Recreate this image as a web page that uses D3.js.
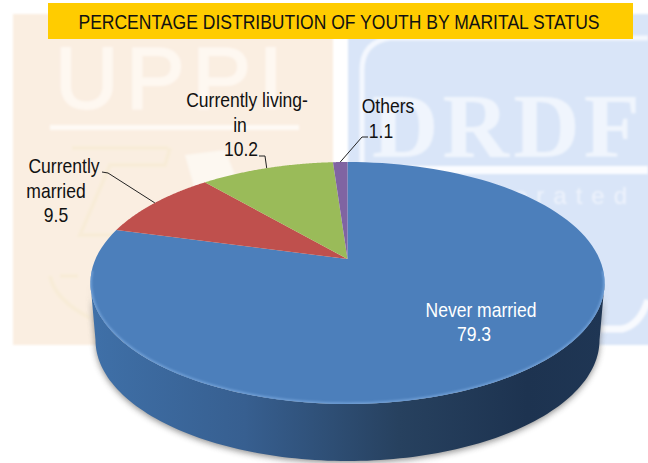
<!DOCTYPE html>
<html lang="en">
<head>
<meta charset="utf-8">
<title>Marital status of youth</title>
<script src="https://d3js.org/d3.v7.min.js"></script>
<style>
html,body{margin:0;padding:0;background:#fff;}
svg{display:block;}
text{font-family:"Liberation Sans",Arial,sans-serif;}
</style>
</head>
<body>
<div id="chart"></div>
<script>
var categories = ["Never married", "Currently married", "Currently living-in", "Others"]
var values = [79.3, 9.5, 10.2, 1.1]
var colors = ["#4c7fbb", "#bf504d", "#9abb59", "#8064a2"]
var titleText = "PERCENTAGE DISTRIBUTION OF YOUTH BY MARITAL STATUS"
var labelLines = [["Never married", "79.3"], ["Currently", "married", "9.5"], ["Currently living-", "in", "10.2"], ["Others", "1.1"]]

var w = 648, h = 463
var svg = d3.select("#chart").append("svg").attr("width", w).attr("height", h)
var defs = svg.append("defs")

// perspective of the pie: apex sits above the centre of the drawn ellipse
var x0 = 347.5, y0 = 259, A = 252, B = 116.2, k = 0.198
function project(a){
    var u = Math.sin(a), v = Math.cos(a), p = 1 + k * v
    return [x0 + A * u / p, y0 - B * v / p]
}
var line = d3.line()
function arcPoints(a0, a1){
    return d3.range(0, 121).map(function(i){ return project(a0 + (a1 - a0) * i / 120) })
}

var sideGrad = defs.append("linearGradient").attr("id", "side").attr("x1", "0").attr("x2", "1").attr("y1", "0").attr("y2", "0")
sideGrad.append("stop").attr("offset", "0").attr("stop-color", "#3f70a8")
sideGrad.append("stop").attr("offset", "0.3").attr("stop-color", "#375f90")
sideGrad.append("stop").attr("offset", "0.6").attr("stop-color", "#27415f")
sideGrad.append("stop").attr("offset", "0.85").attr("stop-color", "#1d3350")
sideGrad.append("stop").attr("offset", "1").attr("stop-color", "#1f3654")
defs.append("filter").attr("id", "blur3").attr("x", "-10%").attr("y", "-10%").attr("width", "120%").attr("height", "120%")
    .append("feGaussianBlur").attr("stdDeviation", 3)
defs.append("filter").attr("id", "blur1").attr("x", "-10%").attr("y", "-10%").attr("width", "120%").attr("height", "120%")
    .append("feGaussianBlur").attr("stdDeviation", 1.2)
defs.append("filter").attr("id", "soft").attr("x", "-5%").attr("y", "-5%").attr("width", "110%").attr("height", "110%")
    .append("feGaussianBlur").attr("stdDeviation", 0.8)

// background panels, washed out logos
var bg = svg.append("g").attr("filter", "url(#soft)")
bg.append("rect").attr("x", 13).attr("y", 14).attr("width", 320).attr("height", 331).attr("fill", "#faeee1")
bg.append("rect").attr("x", 348).attr("y", 14).attr("width", 330).attr("height", 331).attr("rx", 24).attr("fill", "#d9e5f8")
bg.append("path").attr("d", "M362 176 V70 Q362 42 390 38 H648").attr("fill", "none").attr("stroke", "#f4f8fe").attr("stroke-width", 5)
bg.append("path").attr("d", "M360 170 H648").attr("stroke", "#fbfcff").attr("stroke-width", 8)
bg.append("path").attr("d", "M600 329 H622 Q640 325 648 300").attr("fill", "none").attr("stroke", "#f8fafe").attr("stroke-width", 7)
bg.append("text").attr("x", 55).attr("y", 108).attr("font-size", 88).attr("fill", "#fef8f1").attr("stroke", "#fef8f1").attr("stroke-width", 2).attr("textLength", 228).attr("lengthAdjust", "spacing").text("UPPI")
bg.append("rect").attr("x", 50).attr("y", 125).attr("width", 249).attr("height", 5).attr("fill", "#fefaf5")
bg.append("text").attr("x", 372).attr("y", 157).style("font-family", "'Liberation Serif',serif").attr("font-size", 92).attr("font-weight", "bold").attr("fill", "#f0f5fd").attr("textLength", 268).text("DRDF")
bg.append("text").attr("x", 636).attr("y", 204).attr("font-size", 24).attr("letter-spacing", 9).attr("fill", "#eef3fc").attr("text-anchor", "end").text("orporated")
// faint emblem on the left panel
bg.append("path").attr("d", "M72 148 H168 M170 148 L165 165 H110 L80 235 H125 L160 205 M50 276 Q55 300 90 318 M60 276 H78").attr("fill", "none").attr("stroke", "#f8ecd8").attr("stroke-width", 4)
bg.append("path").attr("d", "M185 155 L225 150 L235 175 L195 190 Z").attr("fill", "#fdf8f1")

// body of the pie, lower ellipse joined to the front of the top rim
var lowerCy = 340, lowerRx = 252, lowerRy = 121
function lowerPt(t){ return [x0 + lowerRx * Math.cos(t), lowerCy + lowerRy * Math.sin(t)] }
var lower = d3.range(0, 121).map(function(i){ return lowerPt(Math.PI - Math.PI * i / 120) })

var rimRight = Math.acos(-k), rimLeft = 2 * Math.PI - rimRight
var body = arcPoints(rimRight, rimLeft).concat(lower)

svg.append("path").attr("d", line(body) + "Z").attr("fill", "#555").attr("opacity", 0.65)
    .attr("transform", "translate(0,2)").attr("filter", "url(#blur3)")
svg.append("path").attr("d", line(body) + "Z").attr("fill", "url(#side)")

// top face, built from the pie layout
var pie = d3.pie().sort(null).value(function(d){ return d })
var slices = pie(values)
var face = svg.append("g")
face.selectAll("path.slice").data(slices).enter().append("path")
    .attr("class", "slice")
    .attr("d", function(d){
        return line([[x0, y0]].concat(arcPoints(d.startAngle, d.endAngle))) + "Z"
    })
    .attr("fill", function(d, i){ return colors[i] })

// bevel along the front rim
defs.append("clipPath").attr("id", "face").append("path").attr("d", line(arcPoints(0, 2 * Math.PI)) + "Z")
svg.append("g").attr("clip-path", "url(#face)")
    .append("path").attr("d", line(arcPoints(rimRight - 0.1, rimLeft + 0.1))).attr("fill", "none")
    .attr("stroke", "#6f9fd6").attr("stroke-width", 3).attr("filter", "url(#blur1)")

// leader lines, from the rim at the middle of each slice
var mid = slices.map(function(d){ return project((d.startAngle + d.endAngle) / 2) })
var leader = svg.append("g").attr("fill", "none").attr("stroke", "#222").attr("stroke-width", 1)
leader.append("path").attr("d", line([[102, 172], [108, 173], mid[1]]))
leader.append("path").attr("d", line([[259, 156], [265, 156], mid[2]]))
leader.append("path").attr("d", line([[368, 137], [362, 137], mid[3]]))

// data labels, the reference text is squeezed horizontally
var squeeze = 0.835
var labelX = [[481, 474], [64, 56, 56], [247, 240, 241], [388, 381]]
var labelY = [[317, 341], [173, 198, 222], [107, 132, 156], [113, 138]]
labelLines.forEach(function(lines, i){
    svg.append("g").selectAll("text").data(lines).enter().append("text")
        .attr("transform", function(d, j){ return "translate(" + labelX[i][j] + "," + labelY[i][j] + ") scale(" + squeeze + ",1)" })
        .attr("text-anchor", "middle")
        .attr("font-size", 21)
        .attr("fill", i == 0 ? "#fff" : "#111")
        .text(function(d){ return d })
})

// title banner
svg.append("rect").attr("x", 48).attr("y", 3).attr("width", 585).attr("height", 36).attr("fill", "#ffcc00")
svg.append("text").attr("transform", "translate(339,29) scale(" + squeeze + ",1)").attr("text-anchor", "middle")
    .attr("font-size", 21).attr("fill", "#111").text(titleText)
</script>
</body>
</html>
